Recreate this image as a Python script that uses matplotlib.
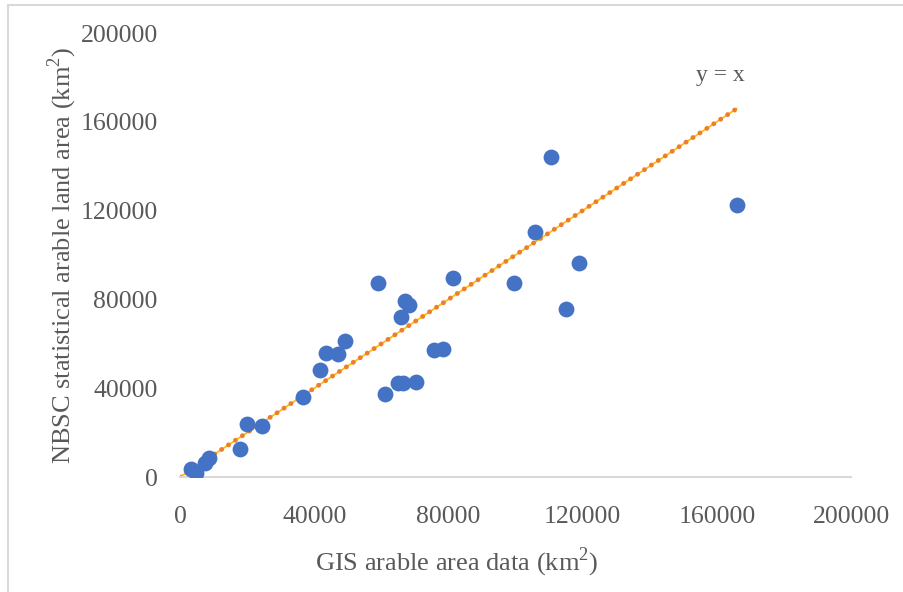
import matplotlib
matplotlib.use("Agg")
import matplotlib.pyplot as plt
from matplotlib.patches import Rectangle

plt.rcParams['font.family'] = ['Liberation Serif', 'DejaVu Serif']
plt.rcParams['mathtext.fontset'] = 'custom'
plt.rcParams['mathtext.rm'] = 'Liberation Serif'

# GIS arable area vs NBSC statistical arable land area (km2)
gis = [3300, 4800, 7450, 8650, 17950, 19900, 24500, 36750, 41700, 43450,
       47000, 49250, 61100, 58900, 65000, 66500, 65800, 67050, 68350, 70250,
       75700, 78400, 81300, 99550, 105800, 110500, 114950, 118900, 165900]
nbsc = [3600, 1800, 6150, 8700, 12600, 23700, 23000, 35900, 48050, 55850,
        55400, 61250, 37400, 87250, 42350, 42350, 71950, 79300, 77350, 42650,
        57200, 57650, 89650, 87250, 110250, 144000, 75550, 96550, 122500]
ticks = [0, 40000, 80000, 120000, 160000, 200000]

grey = '#595959'
fig = plt.figure(figsize=(9.04, 5.92), dpi=100)
ax = fig.add_axes([180/904, 115/592, 671/904, 444/592])

ax.scatter(gis, nbsc, s=130, color='#4472C4', zorder=3, linewidths=0)

# y = x reference line (yellow under orange dots)
lim = max(gis)
ax.plot([0, lim], [0, lim], color='#FFC000', lw=1.3, zorder=2)
ax.plot([0, lim], [0, lim], color='#ED7D31', lw=3.5, dashes=(0.01, 1.7),
        dash_capstyle='round', zorder=2)
ax.text(161000, 181000, 'y = x', fontsize=17, color=grey, ha='center', va='center')

ax.set_xlim(0, 200000)
ax.set_ylim(0, 200000)
ax.set_xticks(ticks)
ax.set_yticks(ticks)
ax.tick_params(length=0, labelsize=18.5, labelcolor=grey)
ax.tick_params(axis='x', pad=21)
ax.tick_params(axis='y', pad=16)
for s in ['top', 'right', 'left']:
    ax.spines[s].set_visible(False)
ax.spines['bottom'].set_color('#D9D9D9')
ax.spines['bottom'].set_linewidth(1.5)

ax.set_xlabel('GIS arable area data (km$^{2}$)', fontsize=19, color=grey)
ax.set_ylabel('NBSC statistical arable land area (km$^{2}$)', fontsize=19, color=grey)
ax.xaxis.set_label_coords(0.413, -0.155)
ax.yaxis.set_label_coords(-0.15, 0.5)

fig.add_artist(Rectangle((8/904, -0.1), 1.2, (587/592) + 0.1, transform=fig.transFigure,
                         fill=False, edgecolor='#D9D9D9', lw=1.5, clip_on=False))

fig.savefig('out.png', dpi=100)
